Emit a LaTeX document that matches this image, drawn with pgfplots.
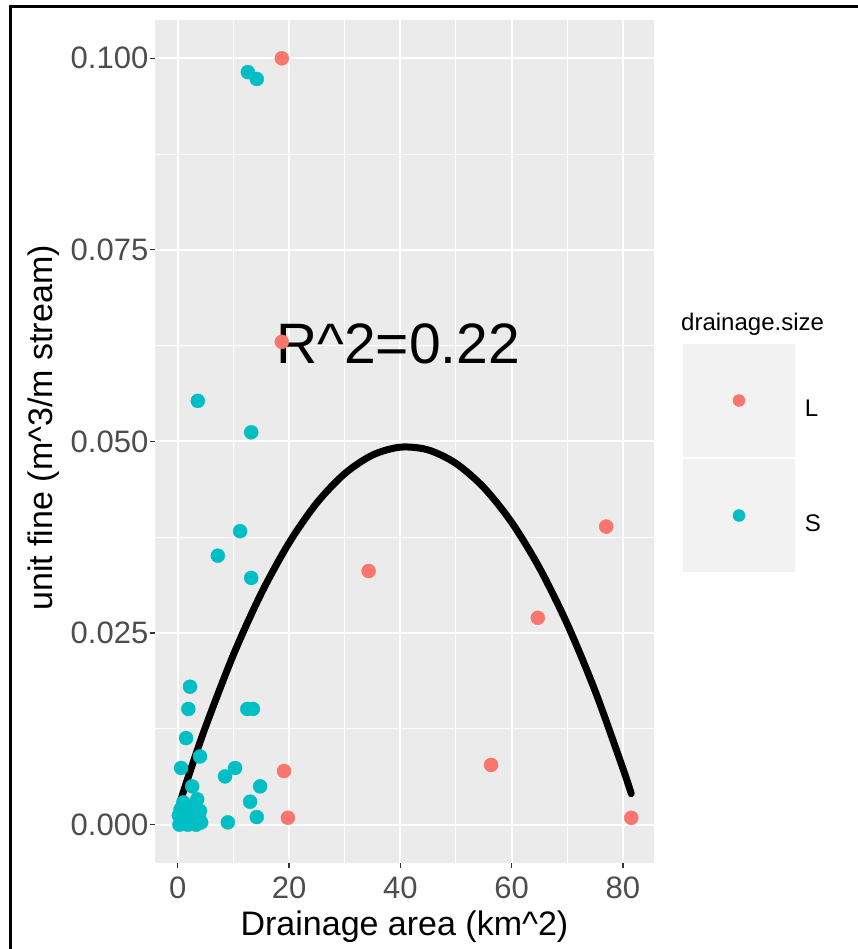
\documentclass[border=0pt]{standalone}
\usepackage{pgfplots}
\pgfplotsset{compat=1.18}
\usepackage{fontspec}
\setmainfont{Liberation Sans}
\definecolor{panelbg}{HTML}{EBEBEB}
\definecolor{keybg}{HTML}{F2F2F2}
\definecolor{colL}{HTML}{F8766D}
\definecolor{colS}{HTML}{00BFC4}
\definecolor{ticktext}{HTML}{4D4D4D}
\definecolor{tickcol}{HTML}{333333}

\pgfplotstableread{
x y
18.7 0.1000
18.7 0.0630
34.3 0.0331
77.0 0.0389
64.7 0.0270
56.3 0.0078
19.1 0.0070
19.8 0.0009
81.5 0.0009
}\dataL

\pgfplotstableread{
x y
12.6 0.0982
14.2 0.0973
3.6 0.0553
13.2 0.0512
11.2 0.0383
7.2 0.0351
13.2 0.0322
2.2 0.0180
1.9 0.0151
12.5 0.0151
13.5 0.0151
1.5 0.0113
4.0 0.0089
0.6 0.0074
10.3 0.0074
8.5 0.0063
14.8 0.0050
2.6 0.0050
13.0 0.0030
3.5 0.0033
14.2 0.0010
9.0 0.0003
0.3 0.0000
0.8 0.0005
1.3 0.0010
1.8 0.0000
2.3 0.0015
2.8 0.0005
3.3 0.0000
3.8 0.0010
4.2 0.0003
0.5 0.0020
1.0 0.0029
1.5 0.0025
2.0 0.0020
3.0 0.0020
0.2 0.0012
4.0 0.0018
}\dataS

\pgfplotstableread{
x y
0.4 0.0029
2 0.00647
5 0.01278
10 0.02217
15 0.03017
20 0.03677
25 0.04199
30 0.04580
35 0.04823
40 0.04926
45 0.04890
50 0.04714
55 0.04399
60 0.03945
65 0.03351
70 0.02618
75 0.01746
80 0.00734
81.5 0.00404
}\dataFit

\begin{document}
\begin{tikzpicture}
\path[use as bounding box] (-155.5pt,-86pt) rectangle (701.5pt,863pt);
\draw[line width=3pt] (-144.5pt,-100pt) -- (-144.5pt,856pt) -- (720pt,856pt);
\begin{axis}[
  width=498pt, height=843pt, scale only axis,
  xmin=-4, xmax=85.5, ymin=-0.005, ymax=0.105,
  axis background/.style={fill=panelbg},
  axis line style={draw=none},
  xtick={0,20,40,60,80},
  ytick={0,0.025,0.05,0.075,0.1},
  yticklabels={0.000,0.025,0.050,0.075,0.100},
  minor xtick={10,30,50,70},
  minor ytick={0.0125,0.0375,0.0625,0.0875},
  grid=both,
  major grid style={white, line width=2pt},
  minor grid style={white, line width=1pt},
  tick pos=left,
  tick align=outside,
  major tick length=5pt, minor tick length=0pt,
  every tick/.style={tickcol, line width=1.2pt},
  scaled y ticks=false,
  /pgf/number format/assume math mode=true,
  ticklabel style={font=\fontsize{31}{35}\selectfont, text=ticktext},
  xticklabel style={inner sep=0pt, yshift=-9pt},
  yticklabel style={inner sep=0pt, xshift=-2pt},
  xlabel={Drainage area (km\textasciicircum 2)},
  ylabel={unit fine (m\textasciicircum 3/m stream)},
  xlabel style={at={(axis description cs:0.5,0)}, anchor=base, yshift=-72pt, inner sep=0pt, font=\fontsize{34}{38}\selectfont},
  ylabel style={at={(axis description cs:0,0.516)}, anchor=base, yshift=102.5pt, inner sep=0pt, font=\fontsize{34}{38}\selectfont},
  legend style={at={(axis description cs:1.0572,0.6168)}, anchor=north west,
    draw=none, fill=none, inner sep=0pt, outer sep=0pt,
    row sep=0pt, column sep=9pt,
    font=\fontsize{24}{28}\selectfont,
    nodes={inner sep=0pt, outer sep=0pt}},
  legend cell align=left,
  legend image code/.code={
    \path[fill=keybg, draw=white, line width=1pt] (0pt,-48.4pt) rectangle (113pt,65.6pt);
    \draw[mark size=6pt] plot coordinates {(56.5pt,8.6pt)};
  },
]
\addplot[only marks, mark=*, color=colL, mark size=7pt] table[x=x,y=y] {\dataL};
\addlegendentry{L}
\addplot[only marks, mark=*, color=colS, mark size=7pt] table[x=x,y=y] {\dataS};
\addlegendentry{S}
\addplot[forget plot, black, line width=7pt, line cap=round, smooth] table[x=x,y=y] {\dataFit};
\node[font=\fontsize{57}{60}\selectfont, black] at (axis cs:39.6,0.0627) {R\textasciicircum 2=0.22};
\end{axis}
\node[anchor=base west, inner sep=0pt, font=\fontsize{24}{28}\selectfont, text=black] at (525.5pt,532pt) {drainage.size};
\end{tikzpicture}
\end{document}
